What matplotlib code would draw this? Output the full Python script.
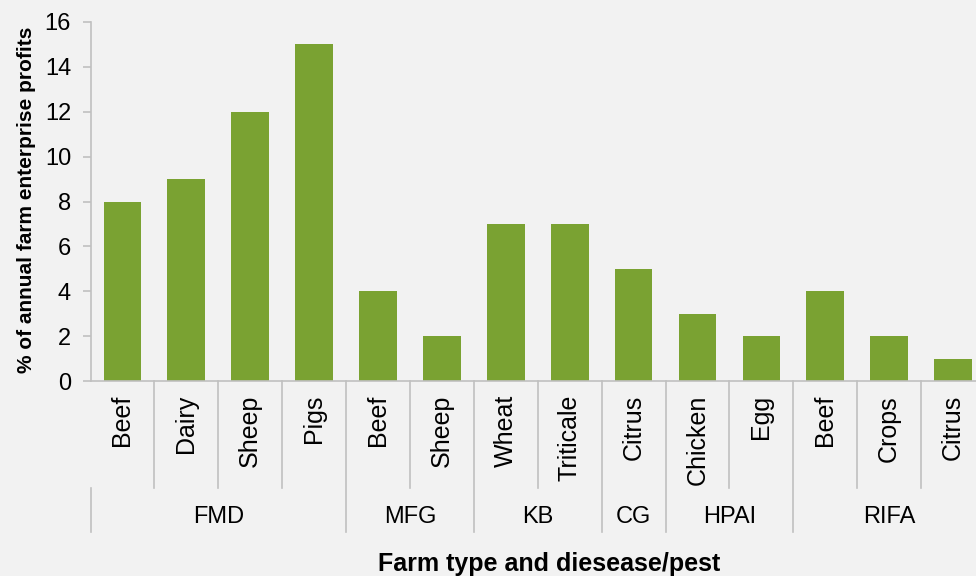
import matplotlib
matplotlib.use("Agg")
import matplotlib.pyplot as plt
import numpy as np

plt.rcParams["font.family"] = ["Liberation Sans", "DejaVu Sans"]

# data
farm_types = ["Beef", "Dairy", "Sheep", "Pigs",
              "Beef", "Sheep",
              "Wheat", "Triticale",
              "Citrus",
              "Chicken", "Egg",
              "Beef", "Crops", "Citrus"]
profit_pct = [8, 9, 12, 15, 4, 2, 7, 7, 5, 3, 2, 4, 2, 1]
groups = ["FMD", "MFG", "KB", "CG", "HPAI", "RIFA"]
group_sizes = [4, 2, 2, 1, 2, 3]

bg = "#F2F2F2"
bar_color = "#7AA232"
line_color = "#C0C0C0"

fig = plt.figure(figsize=(9.76, 5.76), dpi=100, facecolor=bg)
# axes runs a little past the right edge, like the cropped original
ax = fig.add_axes([90.5 / 976, 195 / 576, 894.5 / 976, 359 / 576], facecolor=bg)

x = np.arange(len(farm_types))
ax.bar(x, profit_pct, width=0.59, color=bar_color, zorder=2)

ax.set_xlim(-0.5, len(farm_types) - 0.5)
ax.set_ylim(0, 16)
ax.set_yticks(range(0, 17, 2))
ax.tick_params(axis="y", direction="out", length=6, width=1.2, color=line_color,
               labelsize=17, pad=8)
ax.set_xticks(x)
ax.set_xticklabels(farm_types, rotation=90, fontsize=18, va="top")
ax.tick_params(axis="x", length=0, pad=10)

for side in ["top", "right"]:
    ax.spines[side].set_visible(False)
for side in ["left", "bottom"]:
    ax.spines[side].set_color(line_color)
    ax.spines[side].set_linewidth(1.2)

# two-level category axis separators
trans = ax.get_xaxis_transform()
inner_y = -107 / 359
outer_y = -151 / 359
bounds = np.cumsum([0] + group_sizes)
group_edges = set(bounds[1:-1])
for i in range(1, len(farm_types)):
    xpos = i - 0.5
    y_end = outer_y if i in group_edges else inner_y
    ax.plot([xpos, xpos], [0, y_end], transform=trans, color=line_color,
            lw=1.2, clip_on=False)
ax.plot([-0.5, -0.5], [inner_y, outer_y], transform=trans, color=line_color,
        lw=1.2, clip_on=False)

for name, start, size in zip(groups, bounds[:-1], group_sizes):
    centre = start + size / 2 - 0.5
    ax.text(centre, -136 / 359, name, transform=trans, ha="center", va="center",
            fontsize=17)

fig.text(549 / 976, 1 - 564 / 576, "Farm type and diesease/pest", ha="center",
         va="center", fontsize=18, fontweight="bold")
fig.text(27 / 976, 1 - 200 / 576, "% of annual farm enterprise profits", ha="center",
         va="center", rotation=90, fontsize=15, fontweight="bold")

fig.savefig("out.png", dpi=100, facecolor=bg)
